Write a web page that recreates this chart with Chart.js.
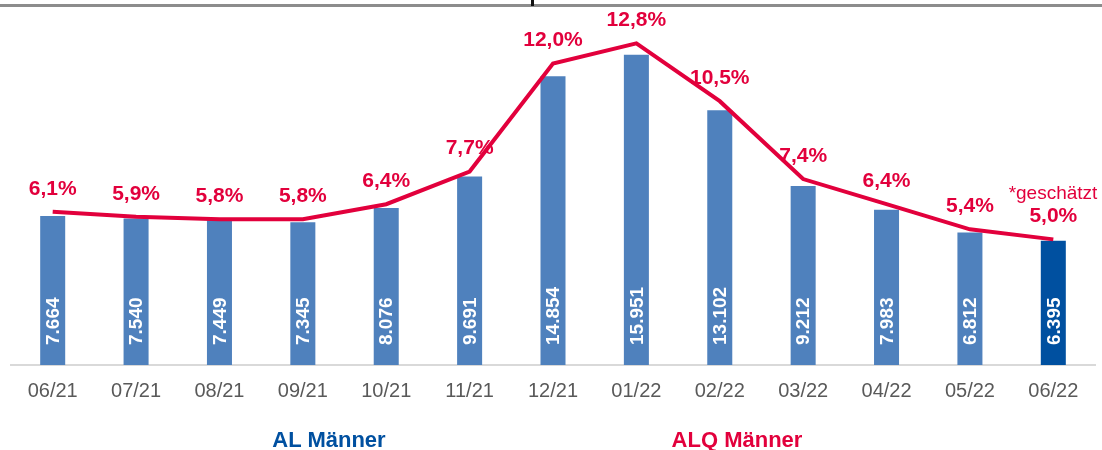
<!DOCTYPE html>
<html>
<head>
<meta charset="utf-8">
<script src="https://cdn.jsdelivr.net/npm/chart.js@4.4.1/dist/chart.umd.min.js"></script>
<style>
  html, body { margin: 0; padding: 0; background: #fff; }
  #wrap { position: relative; width: 1102px; height: 450px; overflow: hidden; font-family: "Liberation Sans", Arial, sans-serif; }
  #chart { position: absolute; left: 0; top: 0; }
  .topline { position: absolute; left: 0; top: 4px; width: 1102px; height: 3px; background: #8c8c8c; }
  .mark { position: absolute; left: 531px; top: 0; width: 3px; height: 6px; background: #111; }
  .legend { position: absolute; font-weight: bold; font-size: 22px; transform: translate(-50%, -50%); white-space: nowrap; }
  .note { position: absolute; left: 1053px; top: 193px; font-size: 19px; color: #e2003c; transform: translate(-50%, -50%); white-space: nowrap; }
</style>
</head>
<body>
<div id="wrap">
  <canvas id="chart" width="1102" height="450"></canvas>
  <div class="topline"></div>
  <div class="mark"></div>
  <div class="note">*geschätzt</div>
  <div class="legend" style="left:329px; top:440px; color:#0050a0;">AL Männer</div>
  <div class="legend" style="left:737px; top:440px; color:#e2003c;">ALQ Männer</div>
</div>
<script>
// Months on the x-axis
const months = ['06/21', '07/21', '08/21', '09/21', '10/21', '11/21', '12/21', '01/22', '02/22', '03/22', '04/22', '05/22', '06/22'];

// Unemployed men (bars)
const alMaenner = [7664, 7540, 7449, 7345, 8076, 9691, 14854, 15951, 13102, 9212, 7983, 6812, 6395];

// Unemployment rate men in % (line)
const alqMaenner = [6.1, 5.9, 5.8, 5.8, 6.4, 7.7, 12.0, 12.8, 10.5, 7.4, 6.4, 5.4, 5.0];

const barBlue = '#4f81bd';
const barBlueLast = '#0050a0';  // estimated month is darker
const lineRed = '#e2003c';

// German number formats
const fmtCount = v => String(v).replace(/\B(?=(\d{3})+(?!\d))/g, '.');
const fmtPct = v => v.toFixed(1).replace('.', ',') + '%';

// Draw value labels ourselves (no datalabels plugin offline)
const valueLabels = {
    id: 'valueLabels',
    afterDatasetsDraw(chart) {
        const ctx = chart.ctx;
        const bottom = chart.chartArea.bottom;

        // white rotated counts inside the bars
        chart.getDatasetMeta(1).data.forEach((bar, i) => {
            ctx.save();
            ctx.translate(bar.x + 1, bottom - 20);
            ctx.rotate(-Math.PI / 2);
            ctx.fillStyle = '#ffffff';
            ctx.font = 'bold 19px "Liberation Sans", Arial, sans-serif';
            ctx.textAlign = 'left';
            ctx.textBaseline = 'middle';
            ctx.fillText(fmtCount(alMaenner[i]), 0, 0);
            ctx.restore();
        });

        // red percentages above the line
        chart.getDatasetMeta(0).data.forEach((pt, i) => {
            ctx.save();
            ctx.fillStyle = lineRed;
            ctx.font = 'bold 21px "Liberation Sans", Arial, sans-serif';
            ctx.textAlign = 'center';
            ctx.textBaseline = 'middle';
            ctx.fillText(fmtPct(alqMaenner[i]), pt.x, pt.y - 23);
            ctx.restore();
        });
    }
};

const ctx = document.getElementById('chart').getContext('2d');
const chart = new Chart(ctx, {
    type: 'bar',
    data: {
        labels: months,
        datasets: [
            {
                type: 'line',
                label: 'ALQ Männer',
                data: alqMaenner,
                yAxisID: 'y2',
                borderColor: lineRed,
                borderWidth: 4,
                pointRadius: 0,
                tension: 0,
                order: 0
            },
            {
                label: 'AL Männer',
                data: alMaenner,
                yAxisID: 'y',
                backgroundColor: alMaenner.map((v, i) => i === alMaenner.length - 1 ? barBlueLast : barBlue),
                barPercentage: 0.6,
                categoryPercentage: 0.5,
                order: 1
            }
        ]
    },
    options: {
        responsive: false,
        animation: false,
        layout: { padding: { left: 11, right: 7, top: 15, bottom: 33 } },
        plugins: {
            legend: { display: false },
            tooltip: { enabled: false }
        },
        scales: {
            x: {
                grid: { display: false, drawTicks: false },
                border: { display: true, color: '#d9d9d9', width: 2 },
                ticks: {
                    color: '#595959',
                    padding: 14,
                    font: { family: '"Liberation Sans", Arial, sans-serif', size: 20 }
                }
            },
            y: { display: false, min: 0, max: 18000 },
            y2: { display: false, min: 0, max: 13.93 }
        }
    },
    plugins: [valueLabels]
});
</script>
</body>
</html>
